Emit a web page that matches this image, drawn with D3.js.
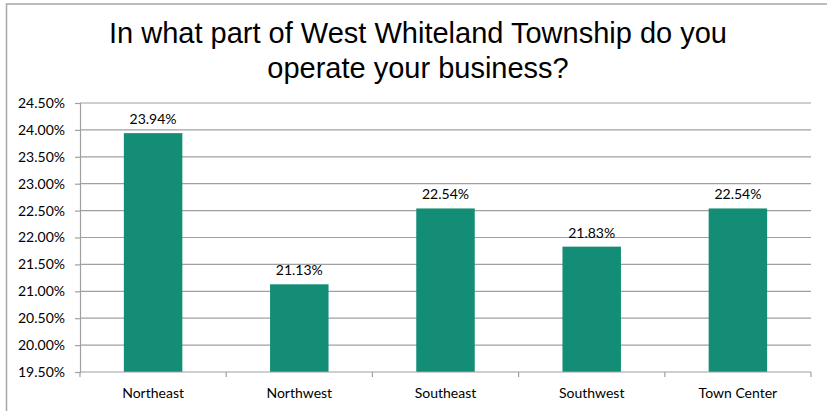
<!DOCTYPE html>
<html>
<head>
<meta charset="utf-8">
<script src="https://cdn.jsdelivr.net/npm/d3@7"></script>
<style>
  html, body { margin: 0; padding: 0; background: #fff; }
  svg { display: block; }
</style>
</head>
<body>
<svg id="chart" width="827" height="411"></svg>
<script>
// Survey responses: share of businesses by township area (percent)
const categories = ["Northeast", "Northwest", "Southeast", "Southwest", "Town Center"];
const shares = [23.94, 21.13, 22.54, 21.83, 22.54];
const yTicks = [19.5, 20.0, 20.5, 21.0, 21.5, 22.0, 22.5, 23.0, 23.5, 24.0, 24.5];
const titleLines = ["In what part of West Whiteland Township do you", "operate your business?"];

const W = 827, H = 411;
const margin = { left: 80, right: 16, top: 103, bottom: 39 };
const plotW = W - margin.left - margin.right;
const plotH = H - margin.top - margin.bottom;
const labelFont = "Lato, Open Sans, sans-serif";

const svg = d3.select("#chart");

// outer frame (top and left edges visible)
svg.append("path")
  .attr("d", `M6.5,${H} L6.5,4 L${W},4`)
  .attr("fill", "none")
  .attr("stroke", "#a6a6a6")
  .attr("stroke-width", 1.5);

// title
svg.append("g").selectAll("text")
  .data(titleLines)
  .join("text")
  .attr("x", 418)
  .attr("y", (d, i) => 43 + i * 35)
  .attr("text-anchor", "middle")
  .attr("font-family", "Liberation Sans, Arial, sans-serif")
  .attr("font-size", 29)
  .attr("fill", "#000")
  .text(d => d);

const x = d3.scaleBand()
  .domain(categories)
  .range([0, plotW])
  .paddingInner(0.6)
  .paddingOuter(0.3);

const y = d3.scaleLinear()
  .domain([19.5, 24.5])
  .range([plotH, 0]);

const g = svg.append("g").attr("transform", `translate(${margin.left},${margin.top})`);

// horizontal gridlines
g.append("g").selectAll("line")
  .data(yTicks.slice(1))
  .join("line")
  .attr("x1", 0).attr("x2", plotW)
  .attr("y1", d => y(d)).attr("y2", d => y(d))
  .attr("stroke", "#a0a0a0")
  .attr("stroke-width", 1.2);

// y axis
const yAxis = g.append("g")
  .call(d3.axisLeft(y).tickValues(yTicks).tickFormat(d => d.toFixed(2) + "%").tickSize(5).tickPadding(10));
yAxis.select(".domain").attr("stroke", "#a0a0a0").attr("stroke-width", 1.2);
yAxis.selectAll(".tick line").attr("stroke", "#a0a0a0").attr("stroke-width", 1.2);
yAxis.selectAll(".tick text")
  .attr("font-family", labelFont)
  .attr("font-size", 14)
  .attr("fill", "#000");

// bars
g.append("g").selectAll("rect")
  .data(categories)
  .join("rect")
  .attr("x", d => x(d))
  .attr("width", x.bandwidth())
  .attr("y", (d, i) => y(shares[i]))
  .attr("height", (d, i) => plotH - y(shares[i]))
  .attr("fill", "#138d75");

// value labels
g.append("g").selectAll("text")
  .data(categories)
  .join("text")
  .attr("x", d => x(d) + x.bandwidth() / 2)
  .attr("y", (d, i) => y(shares[i]) - 9)
  .attr("text-anchor", "middle")
  .attr("font-family", labelFont)
  .attr("font-size", 14)
  .attr("fill", "#000")
  .text((d, i) => shares[i].toFixed(2) + "%");

// x axis baseline with boundary ticks between categories
const step = plotW / categories.length;
const xg = g.append("g").attr("transform", `translate(0,${plotH})`);
xg.append("line")
  .attr("x1", 0).attr("x2", plotW)
  .attr("stroke", "#a0a0a0").attr("stroke-width", 1.2);
xg.selectAll("line.tk")
  .data(d3.range(categories.length + 1))
  .join("line")
  .attr("class", "tk")
  .attr("x1", i => i * step).attr("x2", i => i * step)
  .attr("y1", 0).attr("y2", 5)
  .attr("stroke", "#a0a0a0").attr("stroke-width", 1.2);
xg.selectAll("text")
  .data(categories)
  .join("text")
  .attr("x", d => x(d) + x.bandwidth() / 2)
  .attr("y", 26)
  .attr("text-anchor", "middle")
  .attr("font-family", labelFont)
  .attr("font-size", 14)
  .attr("fill", "#000")
  .text(d => d);
</script>
</body>
</html>
